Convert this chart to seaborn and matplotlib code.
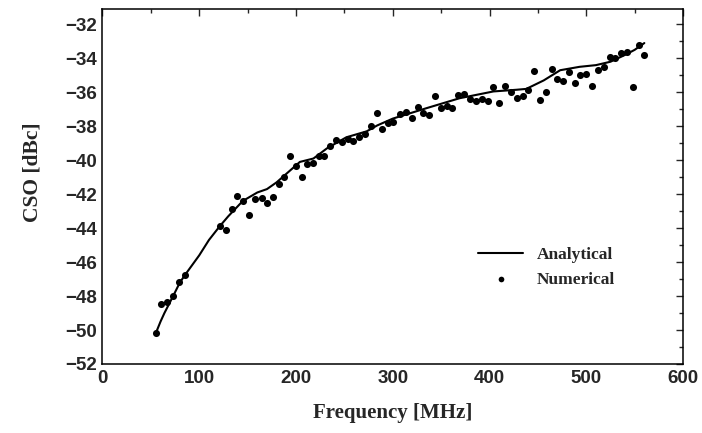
import matplotlib
matplotlib.use("Agg")
import matplotlib.pyplot as plt
import seaborn as sns
import pandas as pd
from matplotlib.ticker import MultipleLocator

# Numerical (simulated) points
freq_num = [55, 60.5, 66.3, 73.2, 79, 85.3, 121.4, 127.6, 133.5, 139.3, 145.5,
            151.8, 157.6, 164.5, 169.7, 175.9, 182.4, 187.9, 193.8, 199.7, 205.9,
            211.7, 217.9, 223.8, 229.3, 235.1, 241.3, 247.2, 253.4, 259.3, 265.1,
            271.3, 277.5, 283.4, 289.2, 295.4, 300.6, 307.5, 313.4, 319.6, 325.8,
            331.6, 337.5, 343.7, 349.9, 355.8, 361.6, 367.8, 373.6, 379.8, 385.7,
            391.9, 398.1, 404, 409.8, 416, 421.9, 428.1, 434.3, 440.1, 446.3,
            452.2, 458.4, 464.3, 470.1, 476.3, 482.2, 488.4, 493.5, 499.6, 505.7,
            511.8, 517.9, 524, 530, 536, 542, 548, 554, 560]
cso_num = [-50.19, -48.46, -48.36, -47.99, -47.15, -46.77, -43.87, -44.12, -42.88,
           -42.08, -42.39, -43.24, -42.29, -42.2, -42.53, -42.18, -41.39, -40.96,
           -39.74, -40.33, -40.96, -40.2, -40.14, -39.78, -39.78, -39.15, -38.8,
           -38.9, -38.76, -38.84, -38.64, -38.45, -37.96, -37.23, -38.17, -37.78,
           -37.72, -37.29, -37.17, -37.52, -36.87, -37.23, -37.33, -36.21, -36.9,
           -36.8, -36.93, -36.15, -36.09, -36.38, -36.54, -36.38, -36.54, -35.66,
           -36.64, -35.62, -36.01, -36.31, -36.21, -35.85, -34.77, -36.48, -35.99,
           -34.62, -35.22, -35.32, -34.83, -35.46, -35.0, -34.9, -35.6, -34.7,
           -34.5, -33.9, -34.0, -33.7, -33.6, -35.7, -33.2, -33.8]

# Analytical curve
freq_line = [55, 60, 64, 73, 80, 86, 100, 110, 121, 130, 145, 160, 170, 180, 190,
             204, 218, 232, 252, 273, 284, 300, 334, 369, 404, 428, 438, 456, 473,
             493, 510, 525, 540, 550, 560]
cso_line = [-50.2, -49.5, -49.0, -48.0, -47.2, -46.7, -45.6, -44.7, -43.9, -43.3,
            -42.4, -41.9, -41.7, -41.3, -40.8, -40.1, -39.9, -39.3, -38.65, -38.3,
            -37.95, -37.55, -36.95, -36.35, -35.95, -35.85, -35.8, -35.3, -34.7,
            -34.5, -34.4, -34.2, -33.8, -33.5, -33.1]

x_ticks = [0, 100, 200, 300, 400, 500, 600]
y_ticks = [-52, -50, -48, -46, -44, -42, -40, -38, -36, -34, -32]

sns.set_style("white")
plt.rcParams['font.family'] = ['Liberation Sans', 'DejaVu Sans']

df_num = pd.DataFrame({"f": freq_num, "cso": cso_num})
df_line = pd.DataFrame({"f": freq_line, "cso": cso_line})

fig = plt.figure(figsize=(7.02, 4.33), dpi=100)
ax = fig.add_axes([0.146, 0.1594, 0.827, 0.8196])

sns.lineplot(data=df_line, x="f", y="cso", ax=ax, color="black", linewidth=1.5,
             label="Analytical", estimator=None, sort=True)
sns.scatterplot(data=df_num, x="f", y="cso", ax=ax, color="black", s=26,
                edgecolor="black", linewidth=0, label="Numerical")

ax.set_xlim(0, 600)
ax.set_ylim(-52, -31.1)
ax.set_xticks(x_ticks)
ax.set_yticks(y_ticks)
ax.xaxis.set_minor_locator(MultipleLocator(50))
ax.yaxis.set_minor_locator(MultipleLocator(1))
ax.tick_params(which="both", direction="in", top=True, right=True,
               labelsize=13.5, width=1)
ax.tick_params(which="major", length=5, pad=4)
ax.tick_params(which="minor", length=3)
for lab in ax.get_xticklabels() + ax.get_yticklabels():
    lab.set_fontweight("bold")
for sp in ax.spines.values():
    sp.set_linewidth(1.1)
    sp.set_color("black")

ax.set_xlabel("Frequency [MHz]", fontsize=15, fontweight="bold",
              family="Liberation Serif", labelpad=12)
ax.set_ylabel("CSO [dBc]", fontsize=15.5, fontweight="bold",
              family="Liberation Serif", labelpad=16)
ax.yaxis.set_label_coords(-0.104, 0.54)

leg = ax.legend(loc="upper left", bbox_to_anchor=(0.62, 0.375), frameon=False,
                prop={"family": "Liberation Serif", "weight": "bold", "size": 12.5},
                handlelength=2.6, markerscale=0.8, labelspacing=0.5)

fig.savefig("out.png", dpi=100)
